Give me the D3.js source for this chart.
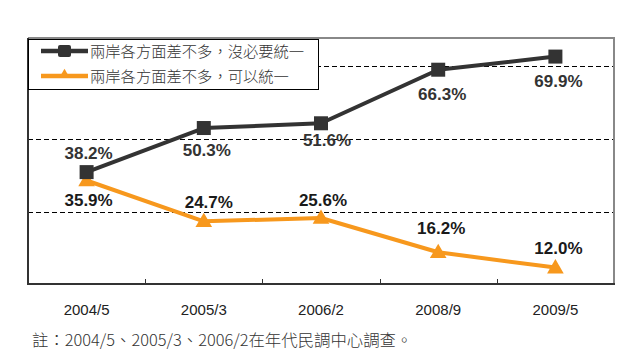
<!DOCTYPE html>
<html><head><meta charset="utf-8">
<script src="https://cdn.jsdelivr.net/npm/d3@7"></script>
<style>body{margin:0;background:#fff}svg{display:block}</style>
</head><body>
<script>
const categories = ["2004/5","2005/3","2006/2","2008/9","2009/5"];
const seriesNames = ["兩岸各方面差不多，沒必要統一","兩岸各方面差不多，可以統一"];
const noNeed = [38.2, 50.3, 51.6, 66.3, 69.9];
const canUnify = [35.9, 24.7, 25.6, 16.2, 12.0];
const gridValues = [27.3, 47.3, 67.3];
const yDomain = [7.5, 75];
const note = "註：2004/5、2005/3、2006/2在年代民調中心調查。";

const W = 639, H = 364;
const L = 28, R = 614, T = 38, B = 284;
const svg = d3.select("body").append("svg").attr("width", W).attr("height", H);
svg.append("rect").attr("width", W).attr("height", H).attr("fill", "#fff");

const x = d3.scaleBand().domain(categories).range([L, R]);
const y = d3.scaleLinear().domain(yDomain).range([B, T]);
const cx = d => x(d) + x.bandwidth()/2;

// gridlines
svg.append("g").selectAll("line").data(gridValues).join("line")
  .attr("x1", L).attr("x2", R).attr("y1", d => Math.round(y(d)) + 0.5).attr("y2", d => Math.round(y(d)) + 0.5)
  .attr("stroke", "#000").attr("stroke-width", 1).attr("stroke-dasharray", "5,3");

// border: top & right gray, left & bottom dark
svg.append("line").attr("x1", L).attr("x2", R+1).attr("y1", T).attr("y2", T).attr("stroke", "#888").attr("stroke-width", 2);
svg.append("line").attr("x1", R).attr("x2", R).attr("y1", T).attr("y2", B).attr("stroke", "#888").attr("stroke-width", 2);
svg.append("line").attr("x1", L).attr("x2", L).attr("y1", T).attr("y2", B+1).attr("stroke", "#333").attr("stroke-width", 2);
svg.append("line").attr("x1", L).attr("x2", R+1).attr("y1", B).attr("y2", B).attr("stroke", "#333").attr("stroke-width", 2);

// x axis
const xAxis = d3.axisBottom(x).tickSize(0).tickPadding(0);
const ax = svg.append("g").attr("transform", `translate(0,${B})`).call(xAxis);
ax.select(".domain").remove();
ax.selectAll("text").attr("y", 31).attr("dy", 0).attr("font-family", "Liberation Sans, Arial, sans-serif")
  .attr("font-size", 15).attr("fill", "#222");
// interior tick marks at band boundaries
svg.append("g").selectAll("line").data(categories.slice(1)).join("line")
  .attr("x1", d => Math.round(x(d)) + 0.5).attr("x2", d => Math.round(x(d)) + 0.5).attr("y1", B).attr("y2", B-5)
  .attr("stroke", "#333").attr("stroke-width", 1);

const series = [
  {name: seriesNames[0], values: noNeed, color: "#333333", marker: "square"},
  {name: seriesNames[1], values: canUnify, color: "#f7981d", marker: "triangle"}
];

const line = d3.line().x((d, i) => cx(categories[i])).y(d => y(d));

series.forEach((s, si) => {
  svg.append("path").datum(s.values).attr("d", line)
    .attr("fill", "none").attr("stroke", s.color).attr("stroke-width", 4).attr("stroke-linejoin", "round");
});
series.slice().reverse().forEach(s => {
  const g = svg.append("g");
  if (s.marker === "square") {
    g.selectAll("rect").data(s.values).join("rect")
      .attr("x", (d, i) => cx(categories[i]) - 7).attr("y", d => y(d) - 7)
      .attr("width", 14).attr("height", 14).attr("fill", s.color);
  } else {
    g.selectAll("path").data(s.values).join("path")
      .attr("d", d3.symbol(d3.symbolTriangle, 120))
      .attr("transform", (d, i) => `translate(${cx(categories[i])},${y(d) + 1})`)
      .attr("fill", s.color);
  }
});

// data labels (label placement relative to its point)
const labelDy = [[-13, 28, 23, 30, 30], [26, -13, -12, -18, -14]];
const labelDx = [[2, 3, 6, 4, 3], [2, 5, 2, 3, 3]];
series.forEach((s, si) => {
  svg.append("g").selectAll("text").data(s.values).join("text")
    .attr("x", (d, i) => cx(categories[i]) + labelDx[si][i])
    .attr("y", (d, i) => y(d) + labelDy[si][i])
    .attr("text-anchor", "middle")
    .attr("font-family", "Liberation Sans, Arial, sans-serif")
    .attr("font-size", 17).attr("font-weight", "bold")
    .attr("fill", si === 0 ? "#333" : "#1a1a1a")
    .text(d => d.toFixed(1) + "%");
});

// legend
const lg = svg.append("g");
lg.append("rect").attr("x", 28.5).attr("y", 39.5).attr("width", 290).attr("height", 50)
  .attr("fill", "#fff").attr("stroke", "#000").attr("stroke-width", 1);
series.forEach((s, si) => {
  const ly = 51 + si * 25;
  lg.append("line").attr("x1", 41).attr("x2", 88).attr("y1", ly).attr("y2", ly)
    .attr("stroke", s.color).attr("stroke-width", 4.5);
  if (s.marker === "square") {
    lg.append("rect").attr("x", 58).attr("y", ly - 6).attr("width", 13).attr("height", 12)
      .attr("rx", 2).attr("fill", s.color);
  } else {
    lg.append("path").attr("d", d3.symbol(d3.symbolTriangle, 50))
      .attr("transform", `translate(64.5,${ly - 1})`).attr("fill", s.color);
  }
  lg.append("text").attr("x", 90).attr("y", ly + 6)
    .attr("font-family", "Noto Sans CJK TC, sans-serif").attr("font-size", 15.3)
    .attr("font-weight", 300).attr("fill", "#333").text(s.name);
});

// note
svg.append("text").attr("x", 32).attr("y", 346)
  .attr("font-family", "Noto Sans CJK TC, sans-serif").attr("font-size", 16.4)
  .attr("font-weight", 300).attr("fill", "#333").text(note);
</script>
</body></html>
